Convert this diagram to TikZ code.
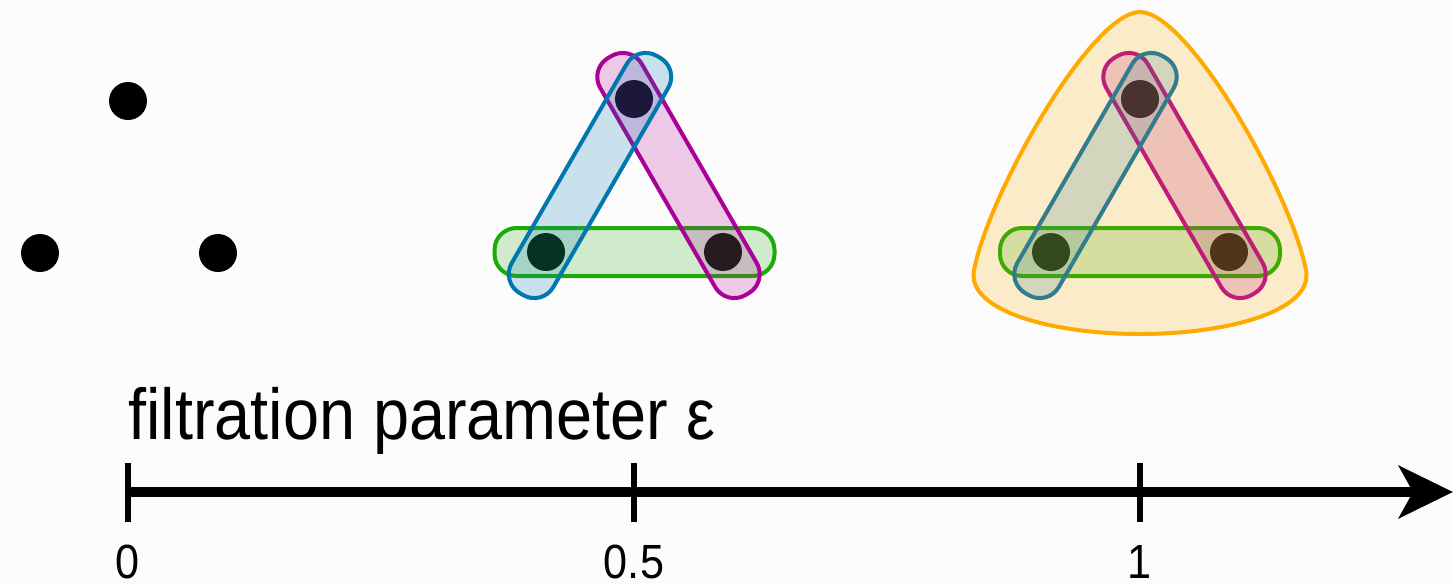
\documentclass[tikz,border=0pt]{standalone}
\usepackage{fontspec}
\setmainfont{Liberation Sans}[FakeStretch=0.9]
\usetikzlibrary{arrows.meta,positioning,calc}
\definecolor{bggray}{RGB}{252,252,252}
\definecolor{capgreen}{RGB}{30,170,10}
\definecolor{capblue}{RGB}{0,120,175}
\definecolor{cappink}{RGB}{170,0,150}
\definecolor{capteal}{RGB}{50,125,140}
\definecolor{capred}{RGB}{190,30,120}
\definecolor{capgreenb}{RGB}{60,170,0}
\definecolor{bloborange}{RGB}{255,170,0}

\begin{document}
\begin{tikzpicture}[x=0.5pt, y=-0.5pt,
  dot/.style={circle, fill=black, inner sep=0pt, minimum size=19pt},
  capsule/.style={draw=#1, fill=#1, fill opacity=0.2, line width=2pt,
    rounded corners=11pt, inner sep=0pt, minimum width=137pt, minimum height=24pt},
  axis/.style={line width=5pt, -{Stealth[length=27pt, width=26pt, inset=7pt]}},
  tickmark/.style={line width=3pt},
  ticklab/.style={font=\fontsize{24}{28}\selectfont, inner sep=0pt, anchor=base},
  axlab/.style={font=\fontsize{36}{40}\selectfont, inner sep=0pt, anchor=base west},
  blob/.style={draw=bloborange, line width=2pt, fill=bloborange, fill opacity=0.2},
]
\fill[bggray] (0,0) rectangle (1453,584);
\useasboundingbox (0,0) rectangle (1453,584);

% eps = 0
\node[dot] (a0) at (128,101) {};
\node[dot] (b0) at (40,253) {};
\node[dot] (c0) at (218,253) {};

% eps = 0.5
\node[dot] (a1) at (634,99) {};
\node[dot] (b1) at (546,252) {};
\node[dot] (c1) at (723,252) {};
\node[capsule=capgreen, minimum width=140pt] (bc1) at ($(b1)!0.5!(c1)$) {};
\node[capsule=cappink, rotate=-60] (ac1) at ($(a1)!0.5!(c1)$) {};
\node[capsule=capblue, rotate=60] (ab1) at ($(a1)!0.5!(b1)$) {};

% eps = 1
\node[dot] (a2) at (1140,99) {};
\node[dot] (b2) at (1051,252) {};
\node[dot] (c2) at (1229,252) {};
\draw[blob] (1140,12) .. controls (1188,12) and (1290,190) .. (1306,270)
  .. controls (1314,310) and (1230,334) .. (1140,334)
  .. controls (1050,334) and (966,310) .. (974,270)
  .. controls (990,190) and (1092,12) .. cycle;
\node[capsule=capgreenb, minimum width=140pt] (bc2) at ($(b2)!0.5!(c2)$) {};
\node[capsule=capred, rotate=-60] (ac2) at ($(a2)!0.5!(c2)$) {};
\node[capsule=capteal, rotate=60] (ab2) at ($(a2)!0.5!(b2)$) {};

% axis
\node[axlab] (eps) at (128,439) {filtration parameter ε};
\coordinate (t0) at (128,492);
\coordinate (t1) at (634,492);
\coordinate (t2) at (1140,492);
\coordinate (tip) at (1453,492);
\draw[axis] (t0) -- (tip);
\foreach \t/\lab in {t0/0, t1/0.5, t2/1} {
  \draw[tickmark] ($(\t)+(0,-29)$) -- ($(\t)+(0,30)$);
  \node[ticklab] (lab-\t) at ($(\t)+(0,86)$) {\lab};
}
\end{tikzpicture}
\end{document}
